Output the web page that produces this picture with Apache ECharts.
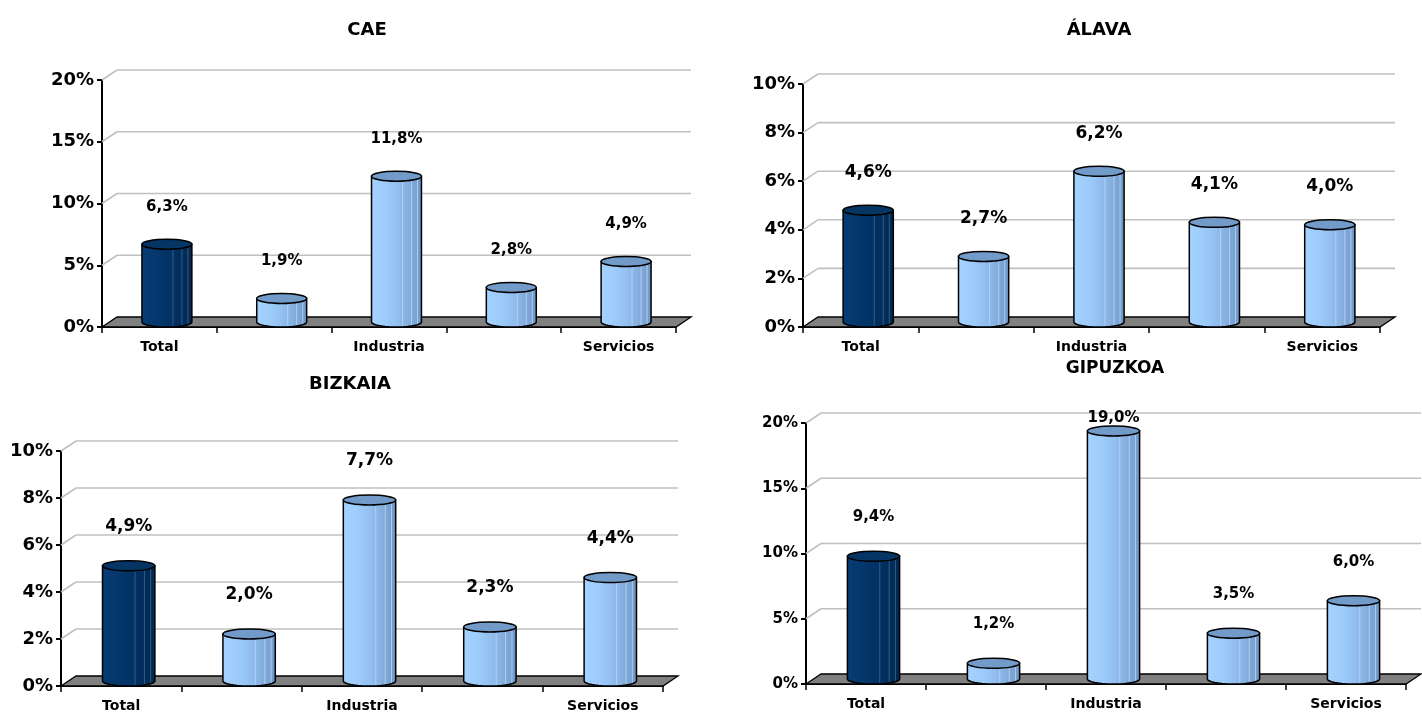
<!DOCTYPE html>
<html>
<head>
<meta charset="utf-8">
<script src="https://cdn.jsdelivr.net/npm/echarts@6/dist/echarts.min.js"></script>
<style>
  html, body { margin: 0; padding: 0; background: #ffffff; }
  #chart { width: 1422px; height: 713px; }
</style>
</head>
<body>
<div id="chart"></div>
<script>
// Sector categories (only every other label is printed on the axis)
const categories = ['Total', 'Agricultura', 'Industria', 'Construcción', 'Servicios'];

// Percentages per territory
const caeValues      = [6.3, 1.9, 11.8, 2.8, 4.9];
const alavaValues    = [4.6, 2.7, 6.2, 4.1, 4.0];
const bizkaiaValues  = [4.9, 2.0, 7.7, 2.3, 4.4];
const gipuzkoaValues = [9.4, 1.2, 19.0, 3.5, 6.0];

// Value-axis ticks
const ticksTo20 = [0, 5, 10, 15, 20];
const ticksTo10 = [0, 2, 4, 6, 8, 10];

// Pseudo-3D depth of the plot box (back wall offset)
const DX = 15, DY = -10;
const BAR_RATIO = 0.435;
const FONT = 'DejaVu Sans';

const panels = [
  { title: 'CAE', values: caeValues, ticks: ticksTo20,
    grid: { left: 102, top: 80, width: 574, height: 247 },
    titleAt: [367, 30], titleSize: 18, tickSize: 18, valueSize: 15, labelOff: 42 },
  { title: 'ÁLAVA', values: alavaValues, ticks: ticksTo10,
    grid: { left: 803, top: 84, width: 577, height: 243 },
    titleAt: [1099, 30], titleSize: 18, tickSize: 18, valueSize: 17, labelOff: 43 },
  { title: 'BIZKAIA', values: bizkaiaValues, ticks: ticksTo10,
    grid: { left: 61, top: 451, width: 602, height: 236 },
    titleAt: [350, 384], titleSize: 18, tickSize: 18, valueSize: 17, labelOff: 44 },
  { title: 'GIPUZKOA', values: gipuzkoaValues, ticks: ticksTo20,
    grid: { left: 806, top: 423, width: 600, height: 261 },
    titleAt: [1115, 369], titleSize: 17, tickSize: 15, valueSize: 15, labelOff: 44 }
];

const LIGHT = {
  body: [
    { offset: 0, color: '#a6d3ff' }, { offset: 0.3, color: '#9ccbfa' },
    { offset: 0.5, color: '#93c0f0' }, { offset: 0.65, color: '#8ab5e5' },
    { offset: 0.8, color: '#80a9d9' }, { offset: 0.92, color: '#769ece' },
    { offset: 1, color: '#6b92c1' }
  ],
  top: '#739bc9', facet: '#b9d9f7'
};
const DARK = {
  body: [
    { offset: 0, color: '#063d75' }, { offset: 0.5, color: '#033366' },
    { offset: 0.8, color: '#022d5b' }, { offset: 1, color: '#01284f' }
  ],
  top: '#053563', facet: '#3e6894'
};

function fmt(v) {
  return v.toFixed(1).replace('.', ',') + '%';
}

function cylinderRenderer(panel) {
  return function (params, api) {
    const i = api.value(0), v = api.value(1);
    const cs = params.coordSys;
    const base = api.coord([i, 0]);
    const top = api.coord([i, v]);
    const bw = api.size([1, 0])[0] * BAR_RATIO;
    const cx = base[0] + DX / 2;
    const rx = bw / 2, ry = -DY / 2;
    const yTop = top[1] + DY / 2;
    const yBot = base[1] + DY / 2;
    const pal = i === 0 ? DARK : LIGHT;

    const pts = [[cx - rx, yTop]];
    const N = 20;
    for (let k = 0; k <= N; k++) {
      const t = Math.PI - Math.PI * k / N;
      pts.push([cx + rx * Math.cos(t), yBot + ry * Math.sin(t)]);
    }
    pts.push([cx + rx, yTop]);

    const children = [{
      type: 'polygon',
      shape: { points: pts },
      style: {
        fill: new echarts.graphic.LinearGradient(0, 0, 1, 0, pal.body),
        stroke: '#000', lineWidth: 1.5
      }
    }];

    // vertical facet highlights
    [0.62, 0.8, 0.92].forEach(function (f) {
      const fx = cx - rx + bw * f;
      const c = (fx - cx) / rx;
      const dy = ry * Math.sqrt(Math.max(0, 1 - c * c));
      children.push({
        type: 'line',
        shape: { x1: fx, y1: yTop + dy, x2: fx, y2: yBot + dy - 1 },
        style: { stroke: pal.facet, lineWidth: 0.8 }
      });
    });

    children.push({
      type: 'ellipse',
      shape: { cx: cx, cy: yTop, rx: rx, ry: ry },
      style: { fill: pal.top, stroke: '#000', lineWidth: 1.5 }
    });

    const ly = Math.max(top[1] - panel.labelOff, cs.y - 5);
    children.push({
      type: 'text',
      style: {
        text: fmt(v), x: cx, y: ly,
        align: 'center', verticalAlign: 'middle',
        font: 'bold ' + panel.valueSize + 'px "' + FONT + '"', fill: '#000'
      }
    });
    return { type: 'group', children: children };
  };
}

function frameRenderer(params, api) {
  const cs = params.coordSys;
  const v = api.value(1);
  const y = api.coord([0, v])[1];
  const x0 = cs.x, x1 = cs.x + cs.width;
  const children = [];
  if (v === 0) {
    children.push({
      type: 'polygon',
      shape: { points: [[x0, y], [x1, y], [x1 + DX, y + DY], [x0 + DX, y + DY]] },
      style: { fill: '#808080', stroke: '#000', lineWidth: 1.3 }
    });
  } else {
    children.push({
      type: 'line',
      shape: { x1: x0, y1: y, x2: x0 + DX, y2: y + DY },
      style: { stroke: '#c0c0c0', lineWidth: 1.6 }
    });
    children.push({
      type: 'line',
      shape: { x1: x0 + DX, y1: y + DY, x2: x1 + DX, y2: y + DY },
      style: { stroke: '#c0c0c0', lineWidth: 1.6 }
    });
  }
  return { type: 'group', children: children };
}

const grids = [], xAxes = [], yAxes = [], series = [], graphics = [];
panels.forEach(function (p, idx) {
  grids.push(Object.assign({ containLabel: false }, p.grid));
  xAxes.push({
    type: 'category', gridIndex: idx, data: categories, boundaryGap: true,
    axisLine: { show: true, lineStyle: { color: '#000', width: 2 } },
    axisTick: { show: true, interval: 0, length: 6, lineStyle: { color: '#000', width: 1.5 } },
    axisLabel: { interval: 1, margin: 13, color: '#000', fontFamily: FONT, fontWeight: 'bold', fontSize: 14 },
    splitLine: { show: false }
  });
  const last = p.ticks[p.ticks.length - 1];
  yAxes.push({
    type: 'value', gridIndex: idx, min: 0, max: last, interval: p.ticks[1] - p.ticks[0],
    axisLine: { show: true, lineStyle: { color: '#000', width: 2 } },
    axisTick: { show: true, length: 5, lineStyle: { color: '#000', width: 2 } },
    axisLabel: { formatter: '{value}%', margin: 8, color: '#000', fontFamily: FONT, fontWeight: 'bold', fontSize: p.tickSize },
    splitLine: { show: false }
  });
  series.push({
    type: 'custom', xAxisIndex: idx, yAxisIndex: idx, z: 1, silent: true,
    data: p.ticks.map(function (t) { return [0, t]; }),
    renderItem: frameRenderer
  });
  series.push({
    type: 'custom', xAxisIndex: idx, yAxisIndex: idx, z: 5, silent: true,
    data: p.values.map(function (v, i) { return [i, v]; }),
    renderItem: cylinderRenderer(p)
  });
  graphics.push({
    type: 'text', x: p.titleAt[0], y: p.titleAt[1],
    style: {
      text: p.title, align: 'center', verticalAlign: 'middle',
      font: 'bold ' + p.titleSize + 'px "' + FONT + '"', fill: '#000'
    }
  });
});

const chart = echarts.init(document.getElementById('chart'));
chart.setOption({
  animation: false,
  backgroundColor: '#ffffff',
  grid: grids,
  xAxis: xAxes,
  yAxis: yAxes,
  series: series,
  graphic: graphics
});
</script>
</body>
</html>
